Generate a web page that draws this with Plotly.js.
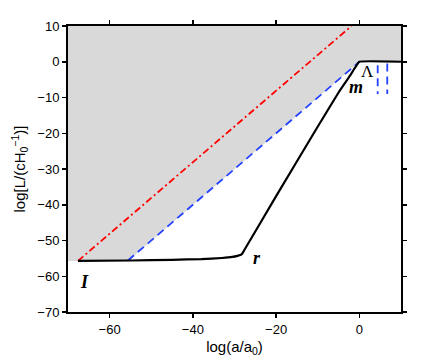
<!DOCTYPE html>
<html>
<head>
<meta charset="utf-8">
<script src="https://cdn.plot.ly/plotly-3.0.1.min.js"></script>
<style>
  html, body { margin: 0; padding: 0; background: #fff; }
  #myPlot { width: 443px; height: 364px; }
</style>
</head>
<body>
<div id="myPlot"></div>
<script>
// shaded region (above the blue boundary)
const shadeX = [-70, -55.6, 0, 10, 10, -70];
const shadeY = [-55.7, -55.7, 0, 0, 10, 10];

// black curve
const curveX = [-67.6, -55, -45, -38, -33, -30.5, -29.3, -28.3, -27.6, -20, -10.6, -5, -2.2, -1, 0, 10];
const curveY = [-55.7, -55.6, -55.4, -55.2, -54.9, -54.6, -54.3, -53.9, -52.6, -37.6, -19.3, -8.6, -3.8, -1.6, 0, 0];

// red dash-dot line
const redX = [-67.6, -1.9];
const redY = [-55.7, 10];

// blue dashed line
const blueX = [-55.6, 0];
const blueY = [-55.6, 0];

// blue dashed vertical marks
const vert1X = [4.4, 4.4];
const vert1Y = [-1, -9];
const vert2X = [6.7, 6.7];
const vert2Y = [-0.5, -9];

// labels
const labelText = ["I", "r", "m", "Λ"];
const labelX = [-66, -24.5, -0.7, 1.9];
const labelY = [-61.5, -55, -7, -2.8];

const blue = "rgb(35,65,255)";
const sans = "Liberation Sans, Arial, sans-serif";

const data = [
    { x: shadeX, y: shadeY, type: "scatter", mode: "lines", fill: "toself",
      fillcolor: "#d9d9d9", line: { width: 0 }, hoverinfo: "skip" },
    { x: redX, y: redY, type: "scatter", mode: "lines",
      line: { color: "#ff0000", width: 1.8, dash: "7px,3px,2px,3px" } },
    { x: blueX, y: blueY, type: "scatter", mode: "lines",
      line: { color: blue, width: 1.8, dash: "8px,5px" } },
    { x: vert1X, y: vert1Y, type: "scatter", mode: "lines",
      line: { color: blue, width: 1.8, dash: "8px,5px" } },
    { x: vert2X, y: vert2Y, type: "scatter", mode: "lines",
      line: { color: blue, width: 1.8, dash: "8px,5px" } },
    { x: curveX, y: curveY, type: "scatter", mode: "lines",
      line: { color: "#000", width: 2.2, shape: "spline", smoothing: 0.3 } }
];

const annotations = labelText.map((t, i) => ({
    x: labelX[i], y: labelY[i], text: "<b><i>" + t + "</i></b>",
    showarrow: false,
    font: { family: "Liberation Serif, Times New Roman, serif", size: 18, color: "#000" }
}));
annotations[3].text = "Λ";
annotations[3].font = { family: "Liberation Serif, serif", size: 17, color: "#000" };

const axisCommon = {
    showgrid: false, zeroline: false,
    showline: true, linecolor: "#000", linewidth: 2,
    mirror: "ticks", ticks: "outside", ticklen: 4, tickwidth: 1.5, tickcolor: "#000",
    tickfont: { family: sans, size: 13, color: "#000" }
};

const layout = {
    width: 443, height: 364,
    margin: { l: 68, r: 42, t: 26, b: 52 },
    paper_bgcolor: "#fff", plot_bgcolor: "#fff",
    showlegend: false,
    xaxis: Object.assign({}, axisCommon, {
        range: [-70, 10], dtick: 20, tick0: 0,
        title: { text: "log(a/a<sub>0</sub>)", standoff: 6,
                 font: { family: sans, size: 15, color: "#000" } }
    }),
    yaxis: Object.assign({}, axisCommon, {
        range: [-70, 10], dtick: 10, tick0: 0,
        title: { text: "log[L/(cH<sub>0</sub><sup>−1</sup>)]", standoff: 8,
                 font: { family: sans, size: 15, color: "#000" } }
    }),
    annotations: annotations
};

Plotly.newPlot("myPlot", data, layout, { displayModeBar: false, staticPlot: true });
</script>
</body>
</html>
